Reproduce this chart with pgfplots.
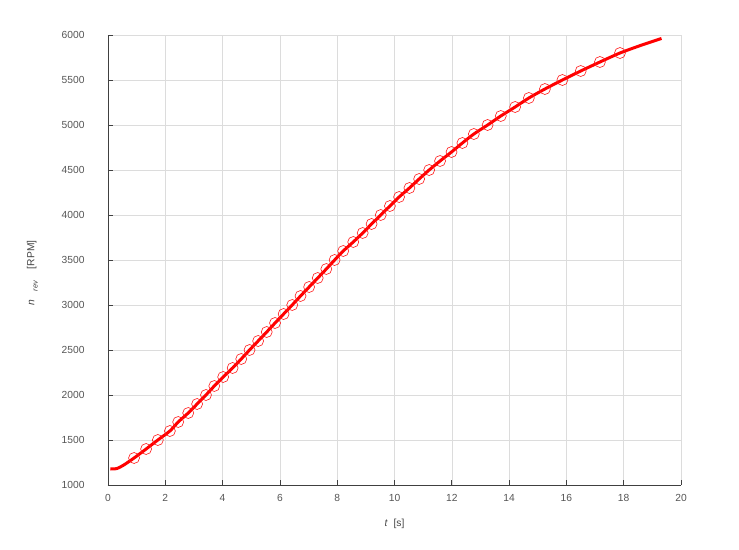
\documentclass[border=0pt]{standalone}
\usepackage{pgfplots}
\pgfplotsset{compat=1.18}
\usepackage{fontspec}
\setmainfont{Liberation Sans}
\definecolor{axgray}{HTML}{404040}
\definecolor{lblgray}{HTML}{555555}
\definecolor{gridgray}{HTML}{DCDCDC}
\begin{document}
\begin{tikzpicture}
\useasboundingbox (-108bp,-65bp) rectangle (631bp,485bp);
\begin{axis}[
  scale only axis,
  width=573bp, height=450bp,
  xmin=0, xmax=20, ymin=1000, ymax=6000,
  xtick={0,2,...,20}, ytick={1000,1500,...,6000},
  axis x line*=bottom, axis y line*=left,
  axis line style={axgray, line width=0.8pt},
  tick style={axgray, line width=0.8pt},
  major tick length=5bp,
  tick align=inside,
  grid=major,
  major grid style={gridgray, line width=0.6pt},
  /pgf/number format/assume math mode=true,
  /pgf/number format/1000 sep={},
  ticklabel style={font=\fontsize{10.3}{12}\selectfont, text=lblgray},
  xticklabel style={yshift=-6bp},
  yticklabel style={xshift=-20bp},
  xlabel={\textit{t}\ \ [s]},
  ylabel={\textit{n}\ \ \ \raisebox{-0.6ex}{\fontsize{7.5}{9}\selectfont\textit{rev}}\ \ \ \ [RPM]},
  label style={font=\fontsize{10.3}{12}\selectfont, text=lblgray!80!black},
  xlabel style={yshift=-10bp},
  ylabel style={yshift=17bp, xshift=-13bp},
  clip=false,
]
\addplot[red, line width=3bp, smooth, tension=0.4] coordinates {
(0.08,1180) (0.3,1182) (0.55,1222) (0.91,1300) (1.33,1400) (1.74,1500) (2.16,1600)
(2.45,1700) (2.80,1800) (3.11,1900) (3.42,2000) (3.71,2100) (4.02,2200) (4.35,2300)
(4.65,2400) (4.94,2500) (5.24,2600) (5.54,2700) (5.83,2800) (6.13,2900) (6.43,3000)
(6.72,3100) (7.02,3200) (7.32,3300) (7.62,3400) (7.91,3500) (8.21,3600) (8.56,3700)
(8.89,3800) (9.20,3900) (9.52,4000) (9.84,4100) (10.16,4200) (10.52,4300) (10.86,4400)
(11.21,4500) (11.59,4600) (11.99,4700) (12.37,4800) (12.77,4900) (13.25,5000)
(13.71,5100) (14.21,5200) (14.69,5300) (15.25,5400) (15.86,5500) (16.50,5600)
(17.17,5700) (17.87,5800) (18.6,5885) (19.32,5962)
};
\addplot[only marks, mark=o, mark size=5.5bp, mark options={red!90, line width=0.6bp}] coordinates {
(0.91,1300) (1.33,1400) (1.74,1500) (2.16,1600)
(2.45,1700) (2.80,1800) (3.11,1900) (3.42,2000) (3.71,2100) (4.02,2200) (4.35,2300)
(4.65,2400) (4.94,2500) (5.24,2600) (5.54,2700) (5.83,2800) (6.13,2900) (6.43,3000)
(6.72,3100) (7.02,3200) (7.32,3300) (7.62,3400) (7.91,3500) (8.21,3600) (8.56,3700)
(8.89,3800) (9.20,3900) (9.52,4000) (9.84,4100) (10.16,4200) (10.52,4300) (10.86,4400)
(11.21,4500) (11.59,4600) (11.99,4700) (12.37,4800) (12.77,4900) (13.25,5000)
(13.71,5100) (14.21,5200) (14.69,5300) (15.25,5400) (15.86,5500) (16.50,5600)
(17.17,5700) (17.87,5800)
};
\end{axis}
\end{tikzpicture}
\end{document}
